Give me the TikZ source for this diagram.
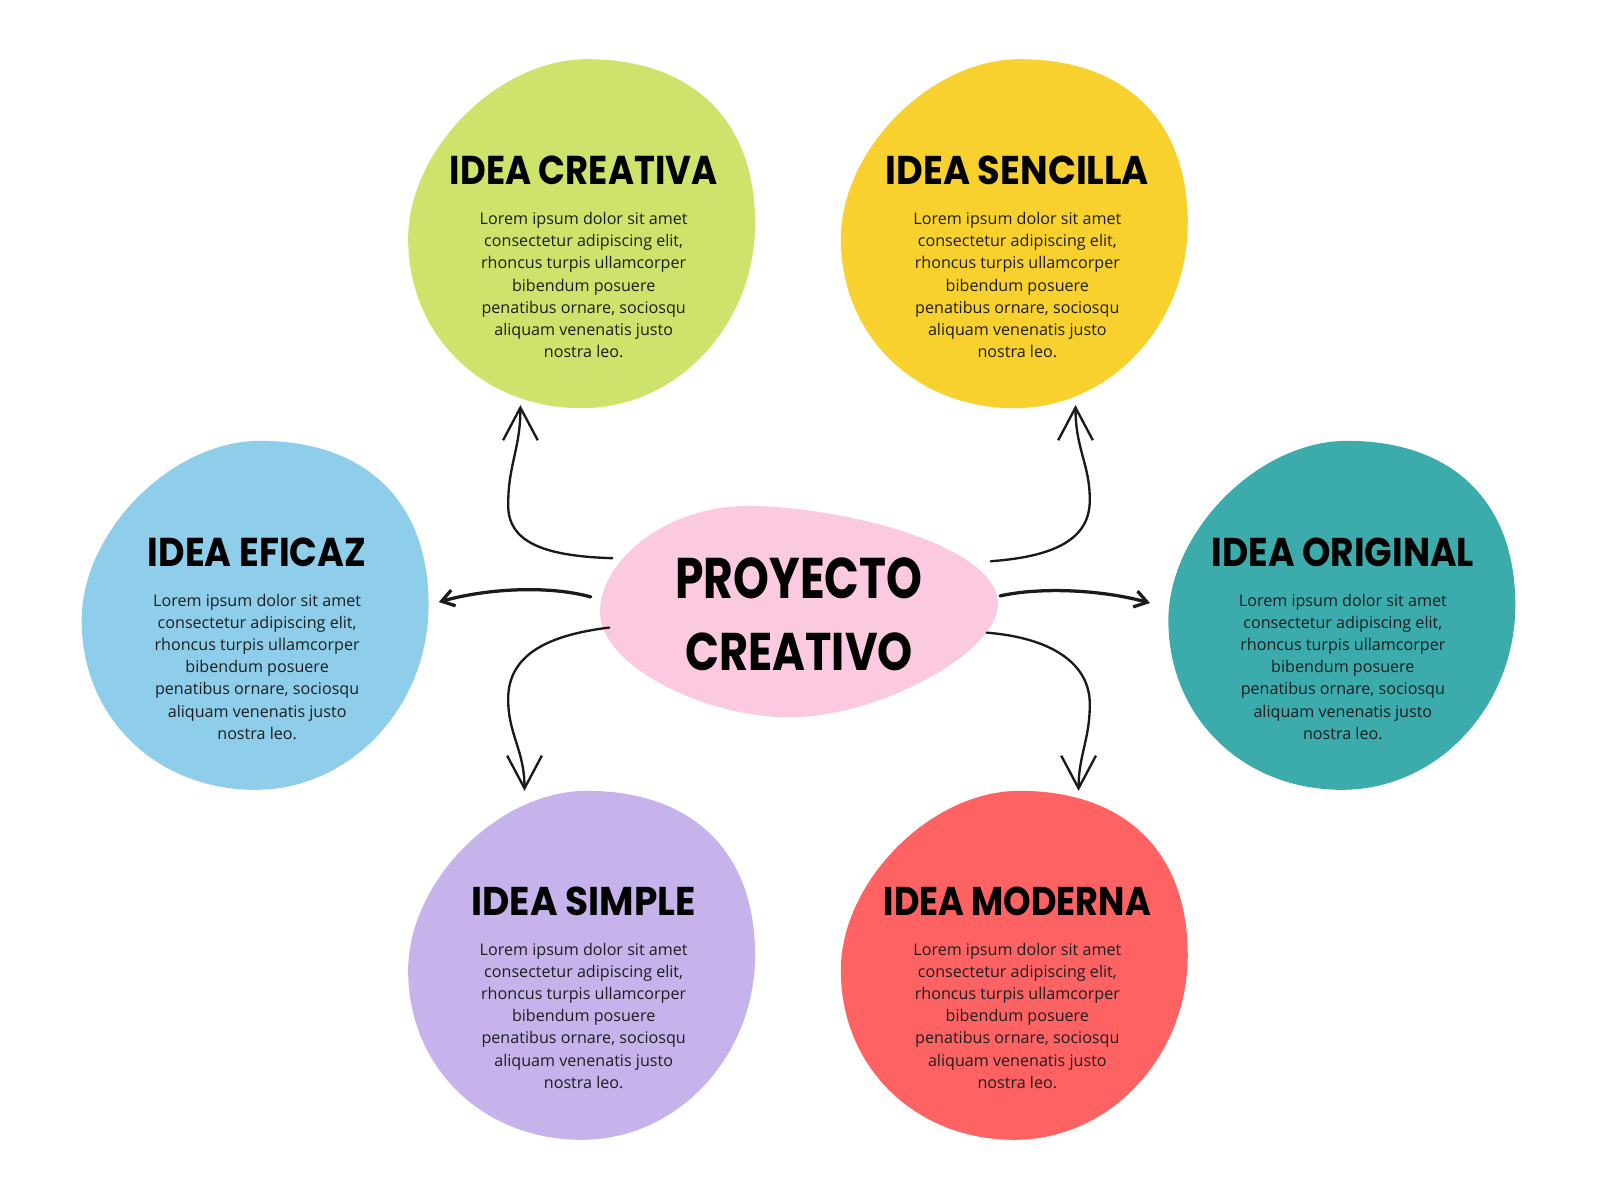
\documentclass[tikz,border=0pt]{standalone}
\usepackage{fontspec}
\setmainfont{Open Sans}
\newfontfamily\titlefont{Poppins}
\usepackage{graphicx}
\usetikzlibrary{arrows.meta}
\definecolor{cgreen}{HTML}{CDE36C}
\definecolor{cyellow}{HTML}{F8D12F}
\definecolor{cblue}{HTML}{8ECEEB}
\definecolor{cteal}{HTML}{3BABAC}
\definecolor{cpurple}{HTML}{C6B3EC}
\definecolor{cred}{HTML}{FE6262}
\definecolor{cpink}{HTML}{FBCAE0}
\definecolor{bodytext}{HTML}{1E1E1E}
\definecolor{linecol}{HTML}{1A1A1A}
\newcommand\ttl[3]{\resizebox{#1pt}{#2pt}{\titlefont\bfseries #3}}
\newcommand\lorem{Lorem ipsum dolor sit amet\\consectetur adipiscing elit,\\rhoncus turpis ullamcorper\\bibendum posuere\\penatibus ornare, sociosqu\\aliquam venenatis justo\\nostra leo.}
\newcommand\myblob[3]{\begin{scope}[shift={(#2,#3)}]
\fill[#1] (5,-171) .. controls (108,-171) and (170,-112) .. (170,-10)
  .. controls (170,88) and (95,171) .. (0,171)
  .. controls (-97,171) and (-170,100) .. (-170,5)
  .. controls (-170,-82) and (-82,-171) .. (5,-171) -- cycle;
\end{scope}}
\tikzset{
  body/.style={font=\fontsize{15.8}{21.7}\selectfont, text=bodytext, align=center, inner sep=0pt, anchor=north},
  ttlnode/.style={inner sep=0pt, anchor=base},
  conn/.style={draw=linecol, line width=2.3pt, line cap=round, -{Straight Barb[length=32pt,width=34pt]}},
  connside/.style={draw=linecol, line width=3.2pt, line cap=round, -{Straight Barb[length=12pt,width=16pt]}},
}
\begin{document}
\begin{tikzpicture}[x=1pt,y=-1pt]
\useasboundingbox (0,0) rectangle (1568,1176);
\fill[white] (0,0) rectangle (1568,1176);
% blobs
\myblob{cgreen}{570}{229}
\myblob{cyellow}{994}{229}
\myblob{cblue}{250}{603}
\myblob{cteal}{1315}{603}
\myblob{cpurple}{570}{946}
\myblob{cred}{994}{946}
\fill[cpink] (725,496) .. controls (805,493) and (978,530) .. (978,592)
  .. controls (978,640) and (860,703) .. (774,703)
  .. controls (690,703) and (588,652) .. (588,600)
  .. controls (588,550) and (650,499) .. (725,496) -- cycle;
% titles
\node[ttlnode] (t1) at (572,181) {\ttl{262}{28}{IDEA CREATIVA}};
\node[ttlnode] (t2) at (997,181) {\ttl{258}{28}{IDEA SENCILLA}};
\node[ttlnode] (t3) at (252,555) {\ttl{214}{28}{IDEA EFICAZ}};
\node[ttlnode] (t4) at (1316,555) {\ttl{257}{28}{IDEA ORIGINAL}};
\node[ttlnode] (t5) at (572,897) {\ttl{220}{28}{IDEA SIMPLE}};
\node[ttlnode] (t6) at (997,897) {\ttl{262}{28}{IDEA MODERNA}};
% bodies
\node[body] (b1) at (572,208) {\lorem};
\node[body] (b2) at (997,208) {\lorem};
\node[body] (b3) at (252,582) {\lorem};
\node[body] (b4) at (1316,582) {\lorem};
\node[body] (b5) at (572,924) {\lorem};
\node[body] (b6) at (997,924) {\lorem};
% center
\node[ttlnode] (p1) at (783,587) {\ttl{242}{40}{PROYECTO}};
\node[ttlnode] (p2) at (783,657) {\ttl{223}{37}{CREATIVO}};
% connector ends
\coordinate (s1) at (600,547); \coordinate (e1) at (510,397);
\coordinate (s2) at (971,550); \coordinate (e2) at (1054,397);
\coordinate (s3) at (579,585); \coordinate (e3) at (430,590);
\coordinate (s4) at (980,584); \coordinate (e4) at (1127,591);
\coordinate (s5) at (597,615); \coordinate (e5) at (514,775);
\coordinate (s6) at (967,620); \coordinate (e6) at (1057,775);
\draw[conn] (s1) .. controls (530,545) and (498,530) .. (498,495) .. controls (498,455) and (510,440) .. (e1);
\draw[conn] (s2) .. controls (1040,545) and (1068,525) .. (1068,490) .. controls (1068,455) and (1054,440) .. (e2);
\draw[connside] (s3) .. controls (540,574) and (480,576) .. (e3);
\draw[connside] (s4) .. controls (1020,575) and (1080,578) .. (e4);
\draw[conn] (s5) .. controls (540,622) and (498,640) .. (498,685) .. controls (498,720) and (514,735) .. (e5);
\draw[conn] (s6) .. controls (1030,625) and (1068,650) .. (1068,690) .. controls (1068,725) and (1057,740) .. (e6);
\end{tikzpicture}
\end{document}
